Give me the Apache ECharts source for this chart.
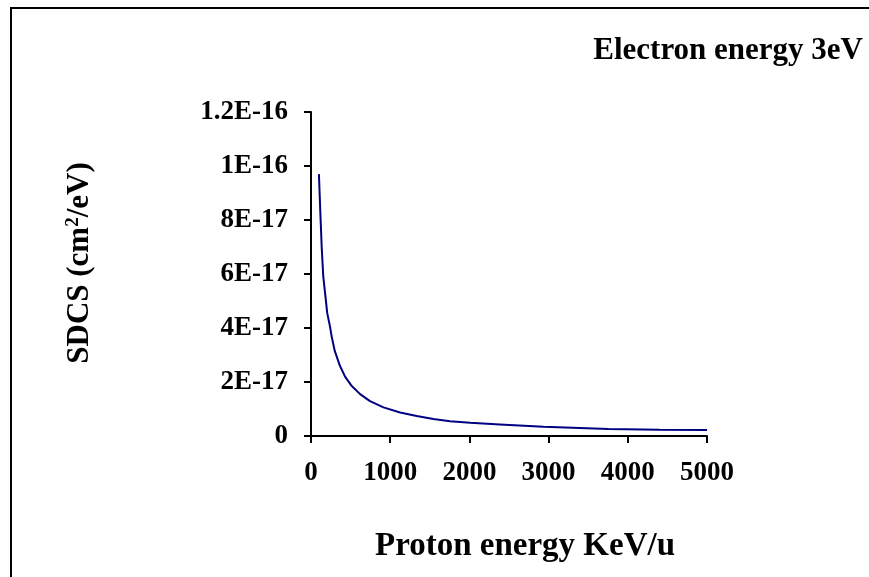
<!DOCTYPE html>
<html>
<head>
<meta charset="utf-8">
<script src="https://cdn.jsdelivr.net/npm/echarts@6/dist/echarts.min.js"></script>
<style>
  html, body { margin: 0; padding: 0; background: #fff; }
  #frame { position: absolute; left: 10px; top: 7px; width: 900px; height: 600px; border: 2px solid #000; box-sizing: border-box; }
  #chart { position: absolute; left: 0; top: 0; width: 869px; height: 577px; }
</style>
</head>
<body>
<div id="frame"></div>
<div id="chart"></div>
<script>
// proton energy (keV/u) and SDCS (cm^2/eV)
const energies = [100, 115, 135, 155, 185, 205, 240, 260, 300, 365, 430, 515, 620, 745, 915, 1125, 1335, 1545, 1755, 2010, 2385, 2935, 3755, 4400, 5000]
const sdcs = [9.7e-17, 8.5e-17, 7.0e-17, 5.9e-17, 5.1e-17, 4.55e-17, 4.05e-17, 3.7e-17, 3.15e-17, 2.6e-17, 2.2e-17, 1.85e-17, 1.55e-17, 1.29e-17, 1.06e-17, 8.7e-18, 7.4e-18, 6.3e-18, 5.5e-18, 4.9e-18, 4.3e-18, 3.4e-18, 2.6e-18, 2.35e-18, 2.2e-18]
const yTickLabels = ['0', '2E-17', '4E-17', '6E-17', '8E-17', '1E-16', '1.2E-16']

const FONT = 'Liberation Serif, Times New Roman, serif'
const nameStyle = { fontFamily: FONT, fontWeight: 'bold', fontSize: 31, color: '#000' }

const chart = echarts.init(document.getElementById('chart'))

chart.setOption({
  animation: false,
  title: {
    text: 'Electron energy 3eV',
    right: 1,
    top: 30,
    textStyle: { fontFamily: FONT, fontWeight: 'bold', fontSize: 31, color: '#000' },
  },
  graphic: [
    {
      type: 'text',
      x: 80,
      y: 263,
      rotation: Math.PI / 2,
      style: {
        text: '{a|SDCS (cm}{s|2}{a|/eV)}',
        align: 'center',
        verticalAlign: 'middle',
        rich: {
          a: { fontFamily: FONT, fontWeight: 'bold', fontSize: 31, fill: '#000' },
          s: { fontFamily: FONT, fontWeight: 'bold', fontSize: 19, fill: '#000', verticalAlign: 'top', padding: [0, 0, 14, 0] },
        },
      },
    },
    {
      type: 'text',
      x: 525,
      y: 546,
      style: {
        text: 'Proton energy KeV/u',
        align: 'center',
        verticalAlign: 'middle',
        font: 'bold 33px ' + FONT,
        fill: '#000',
      },
    },
  ],
  grid: { left: 311, right: 162, top: 112, bottom: 141 },
  xAxis: {
    type: 'value',
    min: 0,
    max: 5000,
    interval: 1000,
    axisLine: { lineStyle: { color: '#000', width: 2 } },
    axisTick: { show: true, length: 7, lineStyle: { color: '#000', width: 2 } },
    axisLabel: { margin: 24, fontFamily: FONT, fontWeight: 'bold', fontSize: 27, color: '#000', formatter: (v) => String(v) },
    splitLine: { show: false },
  },
  yAxis: {
    type: 'value',
    min: 0,
    max: 1.2e-16,
    interval: 2e-17,
    axisLine: { show: true, lineStyle: { color: '#000', width: 2 } },
    axisTick: { show: true, length: 7, lineStyle: { color: '#000', width: 2 } },
    axisLabel: {
      margin: 23,
      fontFamily: FONT,
      fontWeight: 'bold',
      fontSize: 27,
      color: '#000',
      formatter: (v) => yTickLabels[Math.round(v / 2e-17)] ?? '',
    },
    splitLine: { show: false },
  },
  series: [{
    type: 'line',
    data: energies.map((e, i) => [e, sdcs[i]]),
    showSymbol: false,
    lineStyle: { color: '#000080', width: 2 },
  }],
})
</script>
</body>
</html>
